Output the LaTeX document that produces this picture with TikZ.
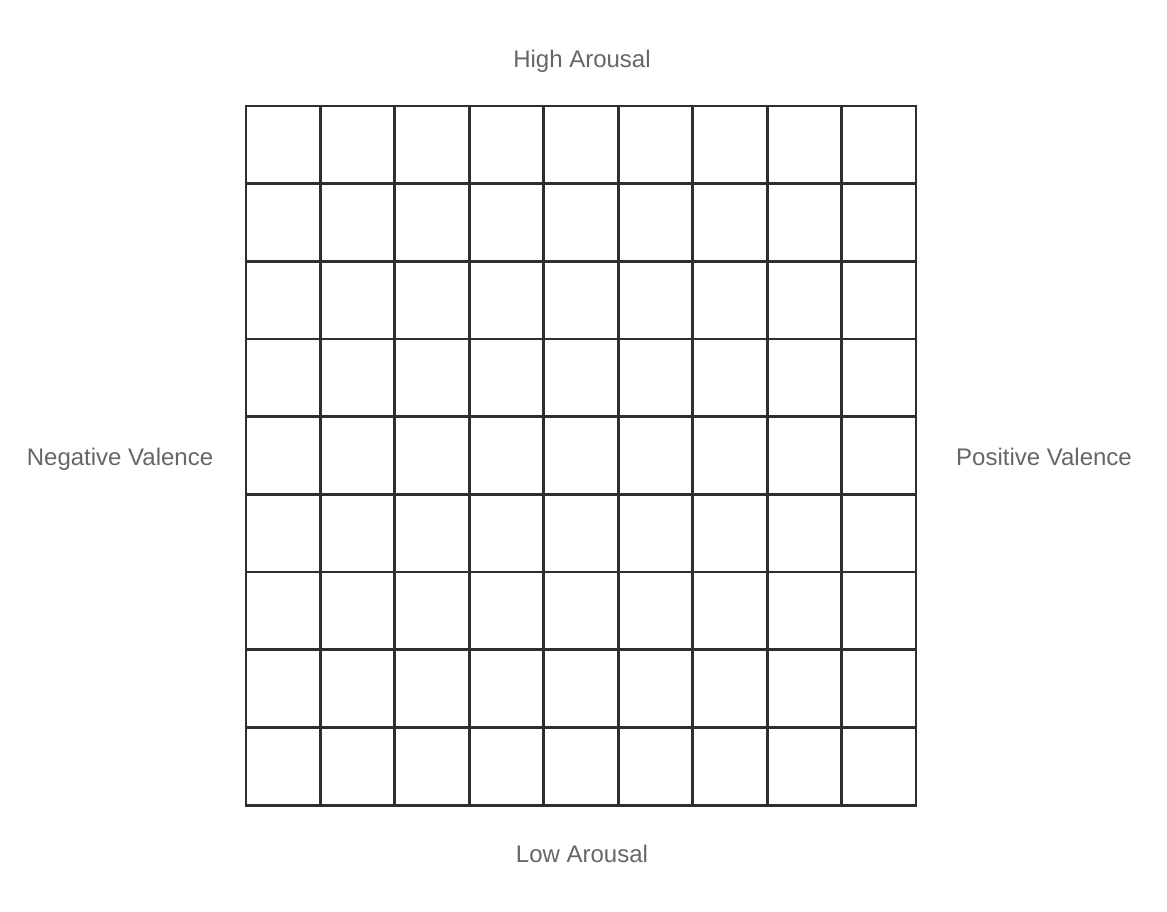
\documentclass[tikz,border=0pt]{standalone}
\usepackage{fontspec}
\setmainfont{Liberation Sans}
\definecolor{labelgray}{HTML}{666666}
\definecolor{gridline}{HTML}{2E2E2E}
\begin{document}
\begin{tikzpicture}[x=0.75pt,y=-0.75pt,
    axislabel/.style={text=labelgray, font=\fontsize{18}{20}\selectfont,
      text height=0.72em, text depth=0.21em}]
  \useasboundingbox (0,0) rectangle (1167,912);

  \coordinate (NW) at (246,106);
  \coordinate (SE) at (916,805);

  % Cells
  \foreach \i in {0,...,8} {
    \foreach \j in {0,...,8} {
      \draw[line width=2.2pt, gridline] ({246+\i*74.44},{106+\j*77.67}) rectangle ++(74.44,77.67);
    }
  }

  % Axis labels
  \node[axislabel] (high) at (582,64.5)  {High Arousal};
  \node[axislabel] (low)  at (582,859) {Low Arousal};
  \node[axislabel] (neg)  at (120,462) {Negative Valence};
  \node[axislabel] (pos)  at (1044,462) {Positive Valence};

\end{tikzpicture}
\end{document}
